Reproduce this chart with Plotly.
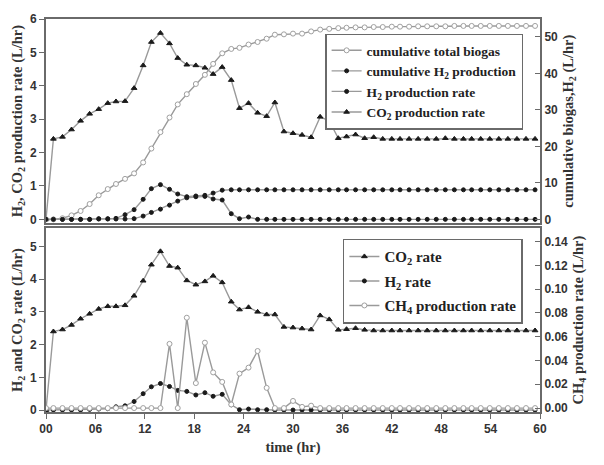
import plotly.graph_objects as go

# sampling times (hr)
time_hr = [0.0, 0.9, 2.0, 3.1, 4.2, 5.3, 6.4, 7.5, 8.5, 9.6, 10.7, 11.8, 12.8, 13.9, 15.0, 16.0,
           17.1, 18.2, 19.3, 20.3, 21.4, 22.5, 23.5, 24.6, 25.7, 26.8, 27.8, 28.9, 30.0, 31.1,
           32.2, 33.3, 34.4, 35.5, 36.5, 37.6, 38.7, 39.8, 40.9, 42.0, 43.0, 44.1, 45.2, 46.3,
           47.4, 48.5, 49.6, 50.7, 51.7, 52.8, 53.9, 55.0, 56.1, 57.2, 58.3, 59.4]

# top panel
cum_biogas = [0.0, 0.0, 0.3, 1.1, 2.3, 4.2, 6.6, 8.3, 9.7, 11.1, 12.6, 15.6, 19.4, 23.9, 27.9, 31.5,
              34.3, 37.1, 39.6, 42.6, 45.5, 46.7, 47.0, 47.9, 48.6, 49.5, 50.6, 50.7, 50.9, 50.9,
              51.5, 52.0, 52.2, 52.4, 52.5, 52.6, 52.6, 52.7, 52.7, 52.8, 52.8, 52.8, 52.9, 52.9,
              52.9, 52.9, 53.0, 53.0, 53.0, 53.0, 53.0, 53.0, 53.0, 53.0, 53.0, 53.0]
cum_h2 = [0.0, 0.0, 0.0, 0.0, 0.0, 0.0, 0.1, 0.1, 0.1, 0.1, 0.2, 0.9, 1.9, 2.8, 3.9, 5.0,
          5.9, 6.2, 6.3, 7.2, 8.0, 8.1, 8.1, 8.1, 8.1, 8.1, 8.1, 8.1, 8.1, 8.1,
          8.1, 8.1, 8.1, 8.1, 8.1, 8.1, 8.1, 8.1, 8.1, 8.1, 8.1, 8.1, 8.1, 8.1,
          8.1, 8.1, 8.1, 8.1, 8.1, 8.1, 8.1, 8.1, 8.1, 8.1, 8.1, 8.1]
h2_rate_top = [0.0, 0.0, 0.0, 0.0, 0.0, 0.0, 0.02, 0.02, 0.03, 0.14, 0.29, 0.60, 0.92, 1.04, 0.90, 0.76,
               0.68, 0.70, 0.72, 0.61, 0.58, 0.17, 0.02, 0.07, 0.0, 0.0, 0.0, 0.0, 0.0, 0.0,
               0.0, 0.0, 0.0, 0.0, 0.0, 0.0, 0.0, 0.0, 0.0, 0.0, 0.0, 0.0, 0.0, 0.0,
               0.0, 0.0, 0.0, 0.0, 0.0, 0.0, 0.0, 0.0, 0.0, 0.0, 0.0, 0.0]
co2_rate_top = [0.0, 2.41, 2.47, 2.69, 2.95, 3.16, 3.30, 3.48, 3.53, 3.54, 3.93, 4.61, 5.31, 5.58, 5.27, 4.83,
                4.63, 4.61, 4.54, 4.35, 4.56, 4.17, 3.33, 3.48, 3.19, 3.09, 3.50, 2.63, 2.58, 2.53,
                2.46, 3.07, 2.95, 2.43, 2.48, 2.54, 2.43, 2.46, 2.41, 2.41, 2.41, 2.41, 2.41, 2.41,
                2.41, 2.43, 2.41, 2.41, 2.41, 2.41, 2.41, 2.41, 2.41, 2.41, 2.41, 2.41]

# bottom panel
co2_rate = [0.0, 2.40, 2.46, 2.60, 2.79, 2.94, 3.09, 3.17, 3.17, 3.20, 3.49, 3.95, 4.44, 4.85, 4.40, 4.35,
            3.96, 3.83, 3.93, 4.10, 3.90, 3.31, 3.07, 3.14, 3.00, 2.92, 2.92, 2.54, 2.52, 2.49,
            2.46, 2.89, 2.77, 2.45, 2.47, 2.50, 2.45, 2.43, 2.43, 2.43, 2.43, 2.43, 2.43, 2.43,
            2.43, 2.43, 2.43, 2.43, 2.43, 2.43, 2.43, 2.43, 2.43, 2.43, 2.43, 2.43]
h2_rate = [0.0, 0.0, 0.0, 0.0, 0.0, 0.02, 0.03, 0.04, 0.10, 0.13, 0.26, 0.50, 0.71, 0.81, 0.72, 0.60,
           0.57, 0.46, 0.53, 0.42, 0.48, 0.16, 0.01, 0.03, 0.01, 0.01, 0.0, 0.0, 0.0, 0.0,
           0.0, 0.0, 0.0, 0.0, 0.0, 0.0, 0.0, 0.0, 0.0, 0.0, 0.0, 0.0, 0.0, 0.0,
           0.0, 0.0, 0.0, 0.0, 0.0, 0.0, 0.0, 0.0, 0.0, 0.0, 0.0, 0.0]
ch4_rate = [0.0, 0.0, 0.0, 0.0, 0.0, 0.0, 0.0, 0.0, 0.0, 0.0, 0.0, 0.0, 0.0, 0.0, 0.054, 0.0,
            0.076, 0.021, 0.055, 0.030, 0.022, 0.003, 0.029, 0.034, 0.048, 0.017, 0.0, 0.0, 0.006, 0.001,
            0.002, 0.0, 0.0, 0.0, 0.0, 0.0, 0.0, 0.0, 0.0, 0.0, 0.0, 0.0, 0.0, 0.0,
            0.0, 0.0, 0.0, 0.0, 0.0, 0.0, 0.0, 0.0, 0.0, 0.0, 0.0, 0.0]

x_ticks = [0, 6, 12, 18, 24, 30, 36, 42, 48, 54, 60]
x_ticktext = ["00", "06", "12", "18", "24", "30", "36", "42", "48", "54", "60"]

LINE = "#9a9a9a"
DARK = "#1a1a1a"
FRAME = "#6a6a6a"
serif = "Liberation Serif"
sans = "Liberation Sans"

fig = go.Figure()

def add(x, y, name, xa, ya, symbol, mcolor, mfill, legend, size=5):
    fig.add_trace(go.Scatter(
        x=x, y=y, name=name, xaxis=xa, yaxis=ya, mode="lines+markers",
        line=dict(color=LINE, width=1.4),
        marker=dict(symbol=symbol, size=size, color=mfill, line=dict(color=mcolor, width=1)),
        legend=legend, legendgroup=name))

add(time_hr, cum_biogas, "cumulative total biogas", "x", "y2", "circle", "#a0a0a0", "white", "legend", 5)
add(time_hr, cum_h2, "cumulative H<sub>2</sub> production", "x", "y2", "circle", DARK, DARK, "legend", 4)
add(time_hr, h2_rate_top, "H<sub>2</sub> production rate", "x", "y", "circle", DARK, DARK, "legend", 4)
add(time_hr, co2_rate_top, "CO<sub>2</sub> production rate", "x", "y", "triangle-up", DARK, DARK, "legend", 5)

add(time_hr, co2_rate, "CO<sub>2</sub> rate", "x2", "y3", "triangle-up", DARK, DARK, "legend2", 5)
add(time_hr, h2_rate, "H<sub>2</sub> rate", "x2", "y3", "circle", DARK, DARK, "legend2", 4)
add(time_hr, ch4_rate, "CH<sub>4</sub> production rate", "x2", "y4", "circle", "#a0a0a0", "white", "legend2", 5)

tickfont = dict(family=sans, size=12, color="#333", weight="bold")
titlefont = dict(family=serif, size=14.5, color="#333", weight="bold")
legfont_top = dict(family=serif, size=13.5, color="#222", weight="bold")
legfont_bot = dict(family=serif, size=15, color="#222", weight="bold")
frame = dict(showline=True, linecolor=FRAME, linewidth=2, showgrid=False, zeroline=False)

fig.update_layout(
    width=604, height=465,
    margin=dict(l=46, r=64, t=13, b=46),
    plot_bgcolor="white", paper_bgcolor="white",
    showlegend=True,
    xaxis=dict(domain=[0, 1], anchor="y", range=[0, 60], showticklabels=False,
               tickvals=x_ticks, ticks="", mirror=True, **frame),
    yaxis=dict(domain=[0.4803, 1], anchor="x", range=[-0.116, 6], dtick=1,
               ticks="outside", ticklen=5, tickcolor=FRAME, tickfont=tickfont,
               title=dict(text="H<sub>2</sub>, CO<sub>2</sub> production rate (L/hr)", font=titlefont, standoff=4),
               **frame),
    yaxis2=dict(overlaying="y", side="right", anchor="x", range=[-1.06, 54.9], dtick=10,
                ticks="inside", ticklen=5, tickcolor=FRAME, tickfont=tickfont,
                title=dict(text="cumulative biogas,H<sub>2</sub> (L/hr)", font=titlefont, standoff=6),
                **frame),
    xaxis2=dict(domain=[0, 1], anchor="y3", range=[0, 60], tickvals=x_ticks, ticktext=x_ticktext,
                ticks="outside", ticklen=5, tickcolor=FRAME, tickfont=tickfont, mirror=True,
                title=dict(text="time (hr)", font=titlefont, standoff=6), **frame),
    yaxis3=dict(domain=[0, 0.468], anchor="x2", range=[-0.06, 5.56], dtick=1,
                ticks="outside", ticklen=5, tickcolor=FRAME, tickfont=tickfont,
                title=dict(text="H<sub>2</sub> and CO<sub>2</sub> rate (L/hr)", font=titlefont, standoff=4),
                **frame),
    yaxis4=dict(overlaying="y3", side="right", anchor="x2", range=[-0.0033, 0.1514], dtick=0.02,
                tickformat=".2f", ticks="inside", ticklen=5, tickcolor=FRAME, tickfont=tickfont,
                title=dict(text="CH<sub>4</sub> production rate (L/hr)", font=titlefont, standoff=6),
                **frame),
    legend=dict(x=0.565, y=0.963, xanchor="left", yanchor="top",
                bgcolor="white", bordercolor=FRAME, borderwidth=1.5,
                font=legfont_top, tracegroupgap=0, itemwidth=30),
    legend2=dict(x=0.601, y=0.441, xanchor="left", yanchor="top",
                 bgcolor="white", bordercolor=FRAME, borderwidth=1.5,
                 font=legfont_bot, tracegroupgap=2, itemwidth=30),
)

fig.write_html("out.html")
